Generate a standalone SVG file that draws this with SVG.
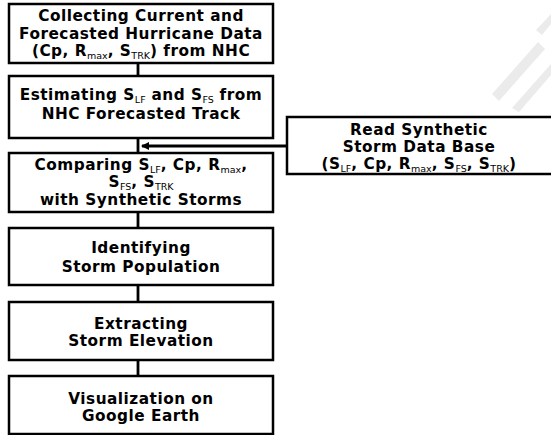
<svg xmlns="http://www.w3.org/2000/svg" width="551" height="435" viewBox="0 0 551 435">
<style>
.box{fill:#fff;stroke:#000;stroke-width:2.5}
.t{font-family:"DejaVu Sans","Verdana",sans-serif;font-weight:bold;font-size:15.3px;fill:#000;text-anchor:middle;letter-spacing:0.5px}
.sub{font-size:9.5px;font-weight:normal;letter-spacing:0}
.ln{stroke:#000;stroke-width:2.8;fill:none}
.wm{fill:#ebebeb}
</style>
<defs>
<marker id="ah" markerWidth="8" markerHeight="8" refX="7" refY="4" orient="auto" markerUnits="userSpaceOnUse">
<path d="M0,0 L8,4 L0,8 Z" fill="#000"/>
</marker>
</defs>
<g id="watermark">
<polygon class="wm" points="492,94 538,42 545,49 499,101"/>
<polygon class="wm" points="512,108 551,64 551,75 519,112"/>
<polygon class="wm" points="536,30 551,14 551,24 542,35"/>
</g>
<g id="connectors">
<line class="ln" x1="138" y1="63" x2="138" y2="76"/>
<line class="ln" x1="138" y1="138" x2="138" y2="153"/>
<line class="ln" x1="138" y1="212" x2="138" y2="228"/>
<line class="ln" x1="138" y1="285" x2="138" y2="302"/>
<line class="ln" x1="138" y1="360" x2="138" y2="376"/>
<line class="ln" x1="287" y1="146" x2="142" y2="146" marker-end="url(#ah)"/>
</g>
<g id="n1">
<rect class="box" x="9" y="4" width="264" height="59"/>
<text class="t" x="141" y="21">Collecting Current and</text>
<text class="t" x="141" y="39">Forecasted Hurricane Data</text>
<text class="t" x="141" y="56">(Cp, R<tspan class="sub" dy="3">max</tspan><tspan dy="-3">, S</tspan><tspan class="sub" dy="3">TRK</tspan><tspan dy="-3">) from NHC</tspan></text>
</g>
<g id="n2">
<rect class="box" x="9" y="76" width="264" height="62"/>
<text class="t" x="141" y="100">Estimating S<tspan class="sub" dy="3">LF</tspan><tspan dy="-3"> and S</tspan><tspan class="sub" dy="3">FS</tspan><tspan dy="-3"> from</tspan></text>
<text class="t" x="141" y="119">NHC Forecasted Track</text>
</g>
<g id="n3">
<rect class="box" x="9" y="153" width="264" height="59"/>
<text class="t" x="141" y="170">Comparing S<tspan class="sub" dy="3">LF</tspan><tspan dy="-3">, Cp, R</tspan><tspan class="sub" dy="3">max</tspan><tspan dy="-3">,</tspan></text>
<text class="t" x="141" y="187">S<tspan class="sub" dy="3">FS</tspan><tspan dy="-3">, S</tspan><tspan class="sub" dy="3">TRK</tspan></text>
<text class="t" x="141" y="205">with Synthetic Storms</text>
</g>
<g id="n4">
<rect class="box" x="9" y="228" width="264" height="57"/>
<text class="t" x="141" y="253">Identifying</text>
<text class="t" x="141" y="272">Storm Population</text>
</g>
<g id="n5">
<rect class="box" x="9" y="302" width="264" height="58"/>
<text class="t" x="141" y="329">Extracting</text>
<text class="t" x="141" y="346">Storm Elevation</text>
</g>
<g id="n6">
<rect class="box" x="9" y="376" width="264" height="58"/>
<text class="t" x="141" y="404">Visualization on</text>
<text class="t" x="141" y="421">Google Earth</text>
</g>
<g id="n7">
<rect class="box" x="287" y="117" width="270" height="57"/>
<text class="t" x="419" y="135">Read Synthetic</text>
<text class="t" x="419" y="152">Storm Data Base</text>
<text class="t" x="419" y="169">(S<tspan class="sub" dy="3">LF</tspan><tspan dy="-3">, Cp, R</tspan><tspan class="sub" dy="3">max</tspan><tspan dy="-3">, S</tspan><tspan class="sub" dy="3">FS</tspan><tspan dy="-3">, S</tspan><tspan class="sub" dy="3">TRK</tspan><tspan dy="-3">)</tspan></text>
</g>
</svg>
